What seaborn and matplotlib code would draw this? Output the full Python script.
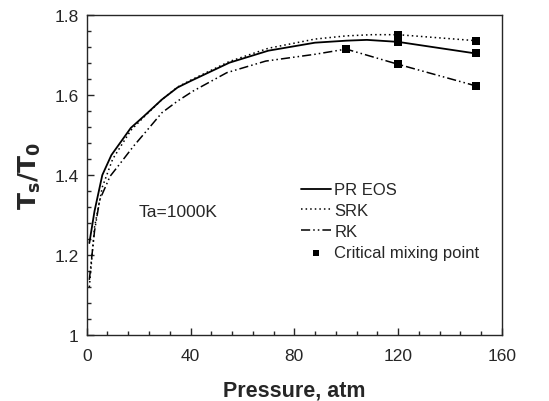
import pandas as pd
import seaborn as sns
import matplotlib.pyplot as plt
from matplotlib.ticker import MultipleLocator

# curves
pr_p = [1, 3, 6, 9.5, 17, 22, 29, 35, 40, 55, 70, 88, 100, 108, 120, 150]
pr_t = [1.23, 1.31, 1.40, 1.45, 1.518, 1.547, 1.589, 1.619, 1.635, 1.681, 1.711, 1.731, 1.736, 1.738, 1.733, 1.704]

srk_p = [1, 3, 6, 10, 17, 22, 29, 35, 40, 55, 70, 88, 100, 110, 120, 150]
srk_t = [1.12, 1.27, 1.37, 1.44, 1.512, 1.545, 1.589, 1.62, 1.637, 1.684, 1.717, 1.740, 1.748, 1.751, 1.751, 1.736]

rk_p = [1, 3, 5, 9, 13, 18, 23, 29, 35, 41, 54, 69, 88, 100, 120, 150]
rk_t = [1.138, 1.26, 1.338, 1.397, 1.43, 1.472, 1.51, 1.556, 1.585, 1.61, 1.656, 1.685, 1.702, 1.715, 1.677, 1.623]

crit_p = [120, 150, 120, 150, 100, 120, 150]
crit_t = [1.733, 1.704, 1.751, 1.736, 1.715, 1.677, 1.623]

sns.set_style("ticks")
plt.rcParams['font.family'] = ['Liberation Sans', 'DejaVu Sans']

fig = plt.figure(figsize=(5.49, 4.02), dpi=100)
ax = fig.add_axes([0.158, 0.164, 0.756, 0.796])

sns.lineplot(x=pr_p, y=pr_t, ax=ax, color='black', lw=1.3, sort=False, label='PR EOS')
sns.lineplot(x=srk_p, y=srk_t, ax=ax, color='black', lw=1.1, sort=False, label='SRK',
             linestyle=(0, (1, 2)))
sns.lineplot(x=rk_p, y=rk_t, ax=ax, color='black', lw=1.1, sort=False, label='RK',
             linestyle=(0, (6, 2, 1, 2, 1, 2)))
sns.scatterplot(x=crit_p, y=crit_t, ax=ax, color='black', marker='s', s=26,
                edgecolor='black', linewidth=0, label='Critical mixing point', zorder=5)

ax.set_xlim(0, 160)
ax.set_ylim(1.0, 1.8)
ax.xaxis.set_major_locator(MultipleLocator(40))
ax.xaxis.set_minor_locator(MultipleLocator(8))
ax.yaxis.set_major_locator(MultipleLocator(0.2))
ax.yaxis.set_minor_locator(MultipleLocator(0.04))
ax.set_yticks([1.0, 1.2, 1.4, 1.6, 1.8])
ax.set_yticklabels(['1', '1.2', '1.4', '1.6', '1.8'])
ax.tick_params(which='both', direction='in', top=False, right=False, labelsize=12.5)
ax.tick_params(which='major', length=5, width=1)
ax.tick_params(which='minor', length=3, width=1)
ax.tick_params(axis='x', pad=9)
ax.tick_params(axis='y', pad=6)
for s in ax.spines.values():
    s.set_linewidth(1.0)

ax.set_xlabel('Pressure, atm', fontsize=15.5, fontweight='bold', labelpad=12)
ax.set_ylabel(r'$\mathbf{T_s/T_0}$', fontsize=18, labelpad=8)

ax.text(20, 1.31, 'Ta=1000K', fontsize=12.5, va='center')

leg = ax.legend(loc='upper left', bbox_to_anchor=(0.5, 0.498), frameon=False,
                fontsize=12, handlelength=1.8, handletextpad=0.2,
                labelspacing=0.35, borderaxespad=0, markerscale=0.85)

plt.savefig('out.png', dpi=100)
plt.close()
